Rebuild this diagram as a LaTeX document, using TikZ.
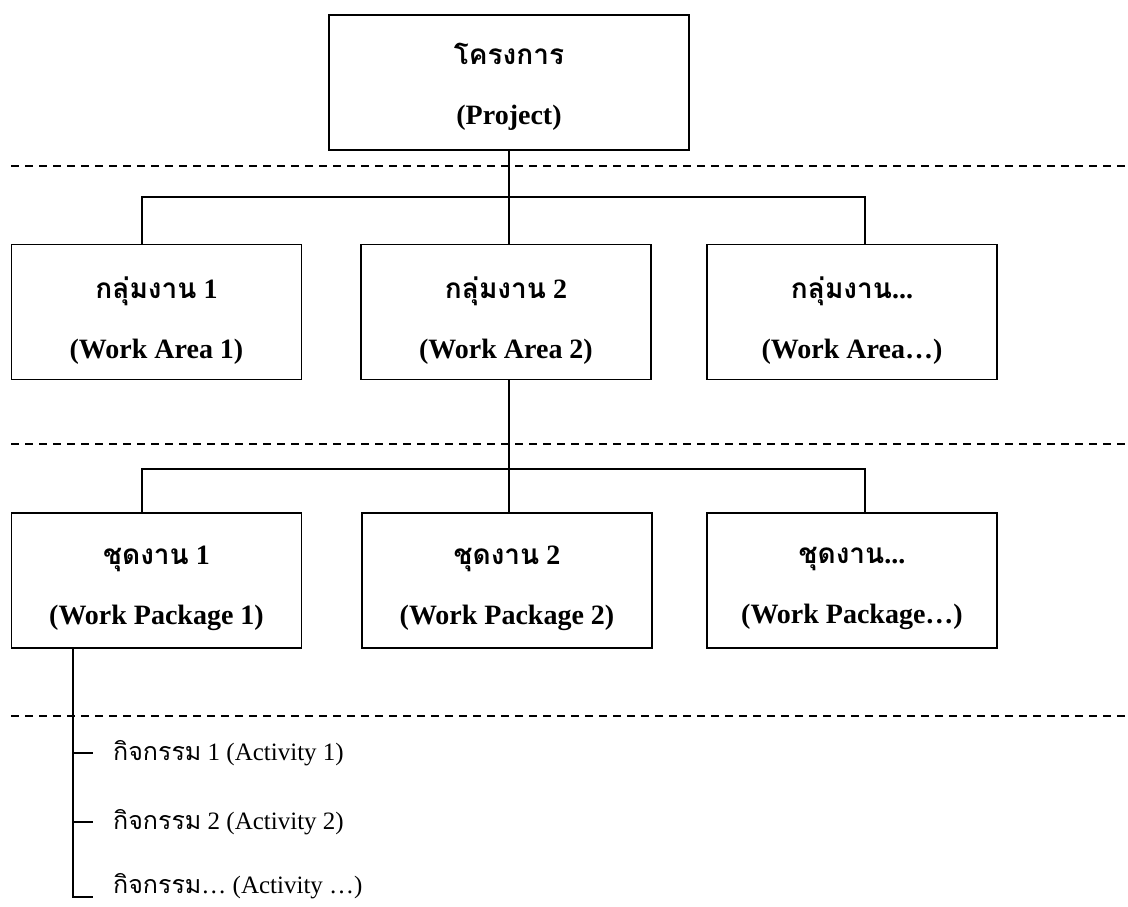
\documentclass[tikz,border=0pt]{standalone}
\usepackage{fontspec}
\setmainfont{Liberation Serif}
\newfontfamily\thai[Script=Thai]{Loma}
\usetikzlibrary{calc}
\begin{document}
\begin{tikzpicture}[x=1pt,y=-1pt,
  box/.style={draw, line width=1.8pt, minimum width=290pt, minimum height=135pt, inner sep=0pt},
  boxtext/.style={align=center, inner sep=0pt, font=\fontsize{28}{60}\selectfont\bfseries},
  conn/.style={line width=1.6pt},
  level/.style={line width=1.3pt, dash pattern=on 8pt off 6pt},
  act/.style={anchor=west, inner sep=0pt, font=\fontsize{25}{30}\selectfont}]
\useasboundingbox (0,0) rectangle (1128,906);

% level separators
\draw[level] (11,166) -- (1126,166);
\draw[level] (11,444) -- (1126,444);
\draw[level] (11,716) -- (1126,716);

% project
\node[box, minimum width=360pt] (proj) at (509,82.5) {};
\path (proj.center) ++(0,4) node[boxtext] {{\thai โครงการ}\\(Project)};

% work areas
\node[box] (wa1) at (156.5,312) {};
\node[box] (wa2) at (506,312) {};
\node[box] (wa3) at (852,312) {};
\path (wa1.center) ++(0,9) node[boxtext] {{\thai กลุ่มงาน} 1\\(Work Area 1)};
\path (wa2.center) ++(0,9) node[boxtext] {{\thai กลุ่มงาน} 2\\(Work Area 2)};
\path (wa3.center) ++(0,9) node[boxtext] {{\thai กลุ่มงาน}...\\(Work Area…)};

% work packages
\node[box] (wp1) at (156.5,580.5) {};
\node[box] (wp2) at (507,580.5) {};
\node[box] (wp3) at (852,580.5) {};
\path (wp1.center) ++(0,8) node[boxtext] {{\thai ชุดงาน} 1\\(Work Package 1)};
\path (wp2.center) ++(0,8) node[boxtext] {{\thai ชุดงาน} 2\\(Work Package 2)};
\path (wp3.center) ++(0,8) node[boxtext] {{\thai ชุดงาน}...\\(Work Package…)};

% activities
\node[act] (a1) at (113,753) {{\thai กิจกรรม} 1 (Activity 1)};
\node[act] (a2) at (113,822) {{\thai กิจกรรม} 2 (Activity 2)};
\node[act] (a3) at (113,886) {{\thai กิจกรรม}… (Activity …)};

% connector helpers
\coordinate (x1) at (142,0);
\coordinate (x2) at (509,0);
\coordinate (x3) at (865,0);
\coordinate (bus1) at (509,197);
\coordinate (bus2) at (509,469);
\coordinate (ax) at (73,0);
\coordinate (tx) at (93,0);
\coordinate (c3) at (93,897);

% project -> work areas
\draw[conn] (proj.south) -- (bus1);
\draw[conn] (wa1.north -| x1) |- (bus1) -| (wa3.north -| x3);
\draw[conn] (bus1) -- (wa2.north -| x2);

% work area 2 -> work packages
\draw[conn] (wa2.south -| x2) -- (bus2);
\draw[conn] (wp1.north -| x1) |- (bus2) -| (wp3.north -| x3);
\draw[conn] (bus2) -- (wp2.north -| x2);

% work package 1 -> activities
\draw[conn] (wp1.south -| ax) |- (c3);
\draw[conn] (a1.west -| ax) -- (a1.west -| tx);
\draw[conn] (a2.west -| ax) -- (a2.west -| tx);
\end{tikzpicture}
\end{document}
